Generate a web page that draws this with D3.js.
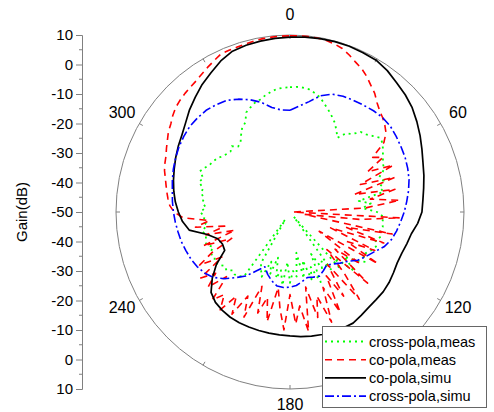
<!DOCTYPE html>
<html>
<head>
<meta charset="utf-8">
<script src="https://cdn.jsdelivr.net/npm/d3@7"></script>
<style>
  html, body { margin: 0; padding: 0; background: #fff; }
  svg { display: block; font-family: "Liberation Sans", Arial, sans-serif; }
</style>
</head>
<body>
<svg id="chart" width="494" height="412"></svg>
<script>
// ---------------- DATA ----------------
const angleLabels = [0, 60, 120, 180, 240, 300];
const gainTicks = [10, 0, -10, -20, -30, -40, -50, -40, -30, -20, -10, 0, 10];

// measured series, sampled every 3 degrees (0..357)
const measAngles = d3.range(0, 360, 3);
const crossPolaMeas = [
  -7.7, -7.5, -7.6, -7.9, -8.8, -9.8, -11.5, -13, -14.5, -16,
  -18, -20, -17, -16, -13.5, -12.8, -11.5, -10, -10.5, -11.8,
  -13, -14, -14.5, -17, -16, -18, -17, -26, -22, -25,
  -20, -17.6, -18, -17.6, -18, -17.6, -19, -18, -18.7, -20,
  -21, -19, -22, -26, -20, -28, -24, -48, -26, -30,
  -28, -34, -24, -30, -26, -33, -27, -36, -28, -30,
  -26, -33, -25, -30, -27, -34, -28, -32, -26, -28,
  -30, -47, -23, -22, -21.5, -22, -20.5, -21, -19.5, -19,
  -20, -19, -21, -19, -19.5, -20, -19, -21, -20, -20.5,
  -19, -21, -19.6, -20, -18.6, -19, -17, -18, -16, -17,
  -18, -18.5, -19, -20, -20.6, -21, -20, -21.5, -21, -19,
  -17, -16, -13, -12, -11, -10.5, -9.5, -8.7, -8, -7.8
];
const coPolaMeas = [
  9.7, 9.8, 9.8, 9.7, 9.5, 9.0, 8.3, 7.0, 5.6, 4.5,
  3.0, 1.2, -0.3, -2.3, -3.8, -4.8, -6.0, -7.4, -10, -16,
  -13, -20, -11, -24, -12, -27, -13, -22, -12, -24,
  -49, -12, -26, -45, -14, -30, -16, -35, -18, -28,
  -15, -38, -20, -30, -14, -32, -22, -12, -28, -16,
  -25, -12, -22, -10, -20, -13, -24, -9, -18, -12,
  -22, -10, -17, -24, -12, -20, -14, -23, -11, -18,
  -10, -16, -9, -14, -10, -19, -12, -17, -12, -22,
  -14, -20, -28, -18, -30, -20, -27, -17, -22, -13,
  -10, -8.5, -7.7, -7, -6.3, -5.5, -4.5, -3.8, -3.2, -2.2,
  -1.2, 0, 0.8, 2, 3, 3.6, 4.1, 4.5, 5, 5.8,
  6.7, 7.6, 8.6, 8.7, 8.8, 9.0, 9.3, 9.5, 9.6, 9.7
];

// simulated series, sampled every 5 degrees (0..355)
const simuAngles = d3.range(0, 360, 5);
const coPolaSimu = [
  9.3, 9.5, 9.7, 9.8, 9.8, 9.6, 9.4, 8.5, 7.2, 6.2,
  5.0, 3.4, 1.8, 0.2, -1.2, -2.2, -3.2, -4.0, -4.5, -5.8,
  -7.5, -8.3, -9.0, -9.2, -8.8, -8.3, -8.0, -8.0, -7.8, -7.2,
  -6.5, -6.6, -6.8, -7.0, -7.3, -7.6, -8.0, -8.2, -8.3, -8.4,
  -8.5, -8.6, -8.8, -9.3, -10, -11.5, -15, -19, -24, -24.3,
  -23.5, -20.5, -14.7, -12.8, -11.5, -10.3, -9.3, -8.4, -7.5, -6.5,
  -5.5, -4.5, -3.0, -1.0, 0.8, 2.8, 4.5, 6.5, 8.0, 8.5,
  8.8, 9.1
];
const crossPolaSimu = [
  -15.5, -14, -12, -9.2, -7.5, -6.7, -6.3, -5.8, -5.2, -4.8,
  -4.8, -5.3, -5.8, -6.2, -6.8, -7.5, -8.5, -9.6, -10.6, -11.7,
  -12.7, -13.8, -15.5, -18, -19.8, -21.5, -24, -25.5, -27, -28,
  -27, -26, -26.5, -27, -26, -25, -24.5, -24.3, -24.5, -25.8,
  -27.5, -29.5, -27, -23.5, -21, -18, -15.5, -14, -13, -12.3,
  -11.8, -11.2, -10.8, -10.3, -9.8, -9.3, -8.8, -8, -7.2, -6.5,
  -5.8, -5.3, -4.9, -4.9, -5, -5.6, -6.3, -7.8, -9.5, -11.5,
  -14, -15.3
];

const seriesNames = ["cross-pola,meas", "co-pola,meas", "co-pola,simu", "cross-pola,simu"];
const seriesColors = ["#00ff00", "#ff0000", "#000000", "#0000ff"];
const seriesDashes = ["2,4", "7,5", null, "9,3,2,3"];

// ---------------- LAYOUT ----------------
const svg = d3.select("#chart");
const cx = 290, cy = 212, rx = 174, ry = 177;
const rScale = d3.scaleLinear().domain([-50, 10]).range([0, 1]).clamp(true);
const toRad = d => d * Math.PI / 180;

function px(a, v) { return cx + rx * rScale(v) * Math.sin(toRad(a)); }
function py(a, v) { return cy - ry * rScale(v) * Math.cos(toRad(a)); }

// polar frame
svg.append("ellipse")
  .attr("cx", cx).attr("cy", cy).attr("rx", rx).attr("ry", ry)
  .attr("fill", "none").attr("stroke", "#808080").attr("stroke-width", 1);

// angular ticks every 30 degrees, pointing inward
const angTicks = d3.range(0, 360, 30);
svg.append("g").selectAll("line").data(angTicks).join("line")
  .attr("x1", a => cx + rx * Math.sin(toRad(a)))
  .attr("y1", a => cy - ry * Math.cos(toRad(a)))
  .attr("x2", a => cx + (rx - 4) * Math.sin(toRad(a)))
  .attr("y2", a => cy - (ry - 4) * Math.cos(toRad(a)))
  .attr("stroke", "#808080").attr("stroke-width", 1);

// angle labels
svg.append("g").selectAll("text").data(angleLabels).join("text")
  .attr("x", a => cx + (rx + 20) * Math.sin(toRad(a)))
  .attr("y", a => cy - (ry + 18) * Math.cos(toRad(a)) - 2.5)
  .attr("text-anchor", "middle")
  .attr("dominant-baseline", "central")
  .attr("font-size", 16)
  .attr("fill", "#000")
  .text(d => d);

// left gain axis (10 at top, -50 at centre, 10 at bottom)
const axisScale = d3.scaleLinear().domain([10, -110]).range([cy - ry, cy + ry]);
const majorVals = d3.range(10, -111, -10);
const minorVals = d3.range(5, -110, -10);
const axisX = 82;
const axisG = svg.append("g").attr("transform", `translate(${axisX},0)`);
axisG.call(d3.axisLeft(axisScale).tickValues(majorVals).tickSize(6).tickPadding(3)
  .tickFormat((d, i) => gainTicks[i]));
axisG.selectAll(".tick text").attr("font-size", 15).attr("fill", "#000")
  .attr("font-family", "Liberation Sans, Arial, sans-serif");
axisG.select(".domain").attr("stroke", "#808080");
axisG.selectAll(".tick line").attr("stroke", "#808080");
axisG.append("g").selectAll("line").data(minorVals).join("line")
  .attr("x1", -3).attr("x2", 0)
  .attr("y1", d => axisScale(d)).attr("y2", d => axisScale(d))
  .attr("stroke", "#808080");

svg.append("text")
  .attr("transform", `translate(21,${cy}) rotate(-90)`)
  .attr("text-anchor", "middle")
  .attr("dominant-baseline", "central")
  .attr("font-size", 15)
  .attr("fill", "#000")
  .text("Gain(dB)");

// series
const line = d3.line().x(d => px(d[0], d[1])).y(d => py(d[0], d[1]));
function closed(angles, vals) {
  const pts = angles.map((a, i) => [a, vals[i]]);
  pts.push([360, vals[0]]);
  return pts;
}
const allSeries = [
  closed(measAngles, crossPolaMeas),
  closed(measAngles, coPolaMeas),
  closed(simuAngles, coPolaSimu),
  closed(simuAngles, crossPolaSimu)
];
const widths = [1.8, 1.6, 1.7, 1.6];
allSeries.forEach((pts, i) => {
  svg.append("path")
    .attr("d", line(pts))
    .attr("fill", "none")
    .attr("stroke", seriesColors[i])
    .attr("stroke-width", widths[i])
    .attr("stroke-dasharray", seriesDashes[i])
    .attr("stroke-linejoin", "round");
});

// legend
const lg = svg.append("g");
lg.append("rect").attr("x", 322.5).attr("y", 326.5).attr("width", 164).attr("height", 81)
  .attr("fill", "#fff").attr("stroke", "#666").attr("stroke-width", 1);
seriesNames.forEach((name, i) => {
  const y = 341.5 + i * 18.2;
  lg.append("line").attr("x1", 325).attr("x2", 366).attr("y1", y).attr("y2", y)
    .attr("stroke", seriesColors[i]).attr("stroke-width", widths[i])
    .attr("stroke-dasharray", seriesDashes[i]);
  lg.append("text").attr("x", 369).attr("y", y)
    .attr("dominant-baseline", "central")
    .attr("font-size", 14.5).attr("fill", "#000")
    .text(name);
});
</script>
</body>
</html>
